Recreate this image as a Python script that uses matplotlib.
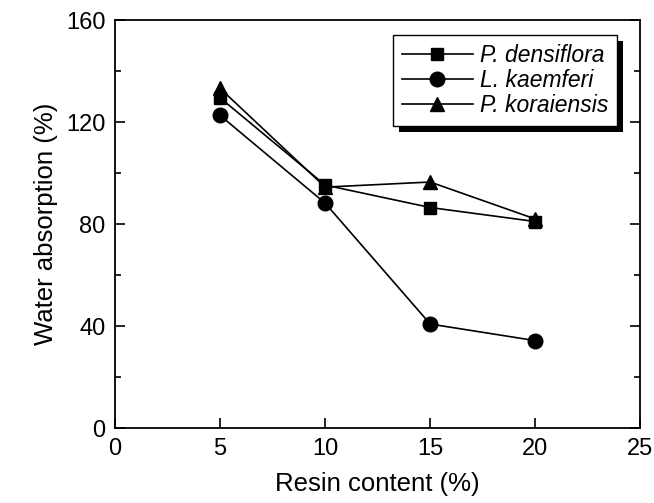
import matplotlib
matplotlib.use("Agg")
import matplotlib.pyplot as plt
from matplotlib.patches import Rectangle
from matplotlib.ticker import MultipleLocator

plt.rcParams['font.family'] = ['Liberation Sans', 'DejaVu Sans']

# Données
resin = [5, 10, 15, 20]
densiflora = [129.5, 95.3, 86.5, 81.0]
kaemferi = [122.6, 88.2, 40.8, 34.3]
koraiensis = [133.2, 94.5, 96.5, 82.0]

fig = plt.figure(figsize=(6.54, 5.03), dpi=100)
ax = fig.add_axes([0.176, 0.149, 0.803, 0.811])

ax.plot(resin, densiflora, color='black', lw=1.2, marker='s', ms=9, label='P. densiflora')
ax.plot(resin, kaemferi, color='black', lw=1.2, marker='o', ms=10.5, label='L. kaemferi')
ax.plot(resin, koraiensis, color='black', lw=1.2, marker='^', ms=10.5, label='P. koraiensis')

ax.set_xlim(0, 25)
ax.set_ylim(0, 160)
ax.xaxis.set_major_locator(MultipleLocator(5))
ax.yaxis.set_major_locator(MultipleLocator(40))
ax.yaxis.set_minor_locator(MultipleLocator(20))

ax.tick_params(axis='both', which='major', direction='in', length=7, width=1.2,
               labelsize=17, pad=7)
ax.tick_params(axis='y', which='minor', direction='in', length=4, width=1.2)
ax.tick_params(axis='y', which='both', right=True)
for sp in ax.spines.values():
    sp.set_linewidth(1.3)

ax.set_xlabel('Resin content (%)', fontsize=18.5, labelpad=9)
ax.set_ylabel('Water absorption (%)', fontsize=18.5, labelpad=6)

leg = ax.legend(loc='upper right', bbox_to_anchor=(0.956, 0.963), prop={'style': 'italic', 'size': 16.5},
                frameon=True, fancybox=False, edgecolor='black', framealpha=1,
                handlelength=3.1, handletextpad=0.3, borderpad=0.4, labelspacing=0.08,
                numpoints=1, borderaxespad=0)
leg.get_frame().set_linewidth(1.0)
leg.set_zorder(5)

# Ombre noire décalée derrière la légende
fig.canvas.draw()
bb = leg.get_window_extent()
shadow = Rectangle((bb.x0 + 6, bb.y0 - 6), bb.width, bb.height, transform=None,
                   facecolor='black', edgecolor='none', zorder=4, clip_on=False)
ax.add_artist(shadow)

fig.savefig('out.png', dpi=100)
